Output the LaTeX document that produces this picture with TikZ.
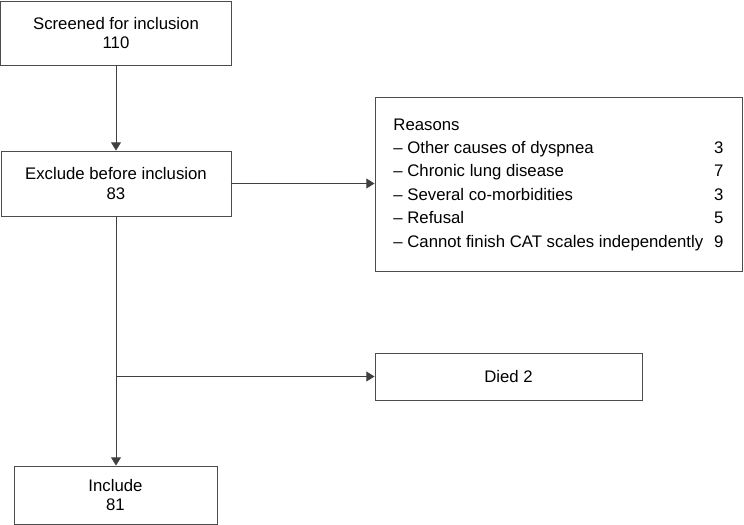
\documentclass[tikz,border=0pt]{standalone}
\usepackage{fontspec}
\setmainfont{Liberation Sans}
\usetikzlibrary{arrows.meta}
\begin{document}
\begin{tikzpicture}[x=0.03cm,y=-0.03cm,
    box/.style={draw=black!70,line width=0.8pt,align=center,inner sep=0pt,
      font=\fontsize{14.3}{17}\selectfont},
    arr/.style={draw=black!75,line width=0.8pt,-{Triangle[width=8.5pt,length=7pt]}}]
    \useasboundingbox (0,0) rectangle (744,525);
    \node[box,minimum width=6.93cm,minimum height=1.92cm] (screen) at (116,33) {Screened for inclusion\\110};
    \node[box,minimum width=6.9cm,minimum height=1.95cm] (exclude) at (116,183.5) {Exclude before inclusion\\83};
    \node[box,minimum width=11.01cm,minimum height=5.22cm] (reasons) at (558.5,184) {%
      \fontsize{14.3}{20}\selectfont
      \begin{tabular}{@{}l@{\hspace{0.33cm}}r@{}}
        Reasons & \\
        -- Other causes of dyspnea & 3\\
        -- Chronic lung disease & 7\\
        -- Several co-morbidities & 3\\
        -- Refusal & 5\\
        -- Cannot finish CAT scales independently & 9
      \end{tabular}};
    \node[box,minimum width=8.01cm,minimum height=1.41cm] (died) at (508.5,376.5) {Died 2};
    \node[box,minimum width=6.09cm,minimum height=1.74cm] (include) at (115.5,495) {Include\\81};
    \coordinate (branch) at (exclude.south |- died.west);
    \draw[arr] (screen.south) -- (exclude.north);
    \draw[arr] (exclude.east) -- (exclude.east -| reasons.west);
    \draw[arr] (exclude.south) -- (exclude.south |- include.north);
    \draw[arr] (branch) -- (died.west);
  \end{tikzpicture}
\end{document}
